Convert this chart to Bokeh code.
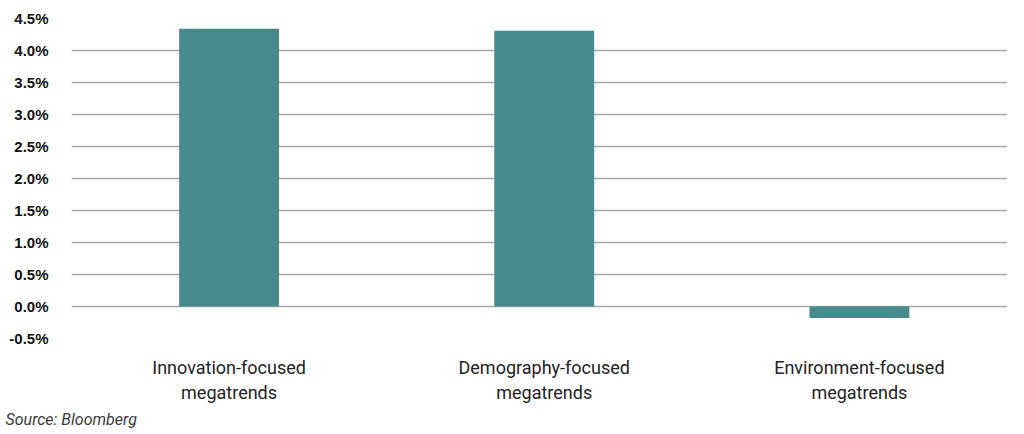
from bokeh.plotting import figure
from bokeh.models import Range1d, FixedTicker, Title
from bokeh.embed import file_html
from bokeh.resources import INLINE

categories = ["Innovation-focused\nmegatrends", "Demography-focused\nmegatrends", "Environment-focused\nmegatrends"]
values = [4.34, 4.31, -0.18]
y_ticks = [-0.5, 0.0, 0.5, 1.0, 1.5, 2.0, 2.5, 3.0, 3.5, 4.0, 4.5]
source_text = "Source: Bloomberg"

xs = [i + 0.5 for i in range(len(categories))]

p = figure(width=1024, height=434, output_backend="svg", toolbar_location=None,
           x_range=Range1d(0, 2.97), y_range=Range1d(-0.5, 4.5),
           min_border_left=71, min_border_right=17, min_border_top=18, min_border_bottom=96)
p.outline_line_color = None
p.background_fill_color = "white"
p.border_fill_color = "white"

p.vbar(x=xs, top=values, bottom=0, width=0.317, fill_color="#478a8c", line_color=None)

# axes
p.yaxis.ticker = FixedTicker(ticks=y_ticks)
p.yaxis.major_label_overrides = {t: f"{t:.1f}%" for t in y_ticks}
p.yaxis.axis_line_color = None
p.yaxis.major_tick_line_color = None
p.yaxis.major_tick_out = 0
p.yaxis.major_tick_in = 0
p.yaxis.minor_tick_line_color = None
p.yaxis.major_label_text_font = "Liberation Sans"
p.yaxis.major_label_text_font_style = "bold"
p.yaxis.major_label_text_font_size = "15px"
p.yaxis.major_label_text_color = "#111111"
p.yaxis.major_label_standoff = 23

p.xaxis.ticker = FixedTicker(ticks=xs)
p.xaxis.major_label_overrides = {x: c for x, c in zip(xs, categories)}
p.xaxis.axis_line_color = None
p.xaxis.major_tick_line_color = None
p.xaxis.major_tick_out = 0
p.xaxis.major_tick_in = 0
p.xaxis.minor_tick_line_color = None
p.xaxis.major_label_text_font = "Roboto"
p.xaxis.major_label_text_font_size = "18px"
p.xaxis.major_label_text_color = "#222222"
p.xaxis.major_label_standoff = 18

p.xgrid.grid_line_color = None
p.ygrid.ticker = FixedTicker(ticks=y_ticks)
p.ygrid.grid_line_color = "#a6a6a6"
p.ygrid.grid_line_width = 1.5

p.add_layout(Title(text=source_text, align="left", offset=-66, standoff=4,
                   text_font="Roboto", text_font_style="italic", text_font_size="16px",
                   text_color="#3a3a3a"), "below")

open("out.html", "w").write(file_html(p, INLINE))
